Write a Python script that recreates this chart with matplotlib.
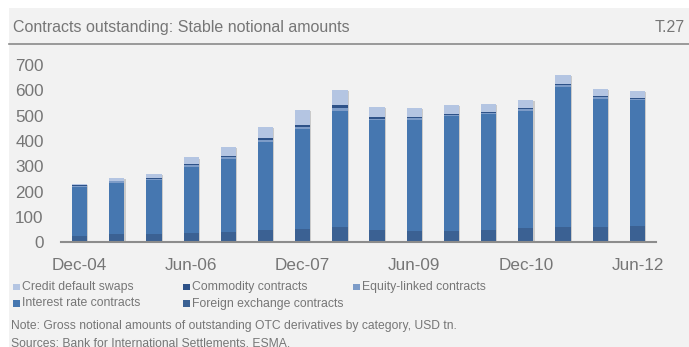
import matplotlib.pyplot as plt
import matplotlib.patheffects as pe
from matplotlib.patches import Rectangle
import numpy as np

plt.rcParams['font.family'] = ['Liberation Sans', 'DejaVu Sans']

# half-yearly periods, USD tn
periods = ["Dec-04", "Jun-05", "Dec-05", "Jun-06", "Dec-06", "Jun-07", "Dec-07", "Jun-08",
           "Dec-08", "Jun-09", "Dec-09", "Jun-10", "Dec-10", "Jun-11", "Dec-11", "Jun-12"]
fx_contracts = [26, 32, 32, 37, 40, 47, 54, 62, 49, 46, 46, 49, 57, 62, 62, 66]
ir_contracts = [194, 204, 212, 262, 289, 348, 394, 457, 432, 438, 451, 456, 463, 552, 505, 494]
equity_contracts = [4, 5, 6, 6, 7, 8, 9, 12, 7, 6, 6, 7, 6, 7, 6, 6]
commodity_contracts = [1, 2, 3, 6, 6, 7, 8, 13, 5, 4, 3, 3, 3, 3, 3, 3]
cds_contracts = [5, 11, 17, 24, 34, 45, 58, 58, 42, 38, 35, 31, 34, 37, 28, 29]

series = [
    ("Foreign exchange contracts", fx_contracts, "#3b6193"),
    ("Interest rate contracts", ir_contracts, "#4677b0"),
    ("Equity-linked contracts", equity_contracts, "#7d9cc8"),
    ("Commodity contracts", commodity_contracts, "#2e5288"),
    ("Credit default swaps", cds_contracts, "#b4c5e2"),
]

W, H = 689, 347
grey_txt = "#767676"
panel = "#f2f2f2"

fig = plt.figure(figsize=(W / 100, H / 100), dpi=100, facecolor="white")

def fx_(x):
    return x / W

def fy_(y):
    return 1 - y / H

# grey panel and header rule
fig.patches.append(Rectangle((fx_(9), 0), 1 - fx_(9), fy_(8), transform=fig.transFigure,
                             facecolor=panel, edgecolor="none", zorder=-10))
fig.add_artist(plt.Line2D([fx_(9), 1], [fy_(44), fy_(44)], transform=fig.transFigure,
                          color="#8a8a8a", lw=1.2))
fig.text(fx_(13), fy_(32), "Contracts outstanding: Stable notional amounts",
         fontsize=11.5, color=grey_txt, va="baseline", ha="left")
fig.text(fx_(685), fy_(32), "T.27", fontsize=11.5, color=grey_txt, va="baseline", ha="right")

ax = fig.add_axes([fx_(61), fy_(242.3), (656 - 61) / W, (242.3 - 65) / H])
ax.set_facecolor("none")
ax.set_zorder(2)

x = np.arange(len(periods))
width = 0.41
totals = np.sum([s[1] for s in series], axis=0)

# soft shadow under each full bar
ax.bar(x, totals, width=width, color=panel, zorder=1,
       path_effects=[pe.SimplePatchShadow(offset=(0.8, -0.8), shadow_rgbFace="#9a9a9a", alpha=0.45),
                     pe.Normal()])

bottom = np.zeros(len(periods))
for name, vals, col in series:
    ax.bar(x, vals, width=width, bottom=bottom, color=col, zorder=2, label=name)
    bottom += np.array(vals)

ax.set_xlim(-0.5, len(periods) - 0.5)
ax.set_ylim(0, 700)
ax.set_yticks(range(0, 701, 100))
ax.set_xticks(x[::3])
ax.set_xticklabels(periods[::3])
ax.tick_params(length=0, labelsize=12.3, colors=grey_txt)
ax.tick_params(axis="y", pad=12.5)
ax.tick_params(axis="x", pad=11)
for side in ["top", "right", "left"]:
    ax.spines[side].set_visible(False)
ax.spines["bottom"].set_color("#8c8c8c")
ax.spines["bottom"].set_linewidth(1.5)
ax.spines["bottom"].set_zorder(3)

# legend laid out in rows, three entries then two
legend_order = ["Credit default swaps", "Commodity contracts", "Equity-linked contracts",
                "Interest rate contracts", "Foreign exchange contracts"]
legend_slots = [(13, 287), (183, 287), (353, 287), (13, 303.5), (183, 303.5)]
colours = {name: col for name, _, col in series}
for name, (lx, ly) in zip(legend_order, legend_slots):
    fig.patches.append(Rectangle((fx_(lx), fy_(ly + 3)), 6.5 / W, 6.5 / H,
                                 transform=fig.transFigure, facecolor=colours[name],
                                 edgecolor="none"))
    fig.text(fx_(lx + 9), fy_(ly), name, fontsize=8.8, color=grey_txt, va="center", ha="left")

fig.text(fx_(11), fy_(325.5), "Note: Gross notional amounts of outstanding OTC derivatives by category, USD tn.",
         fontsize=8.7, color=grey_txt, va="center", ha="left")
fig.text(fx_(11), fy_(343.5), "Sources: Bank for International Settlements, ESMA.",
         fontsize=8.7, color=grey_txt, va="center", ha="left")

fig.savefig("out.png", dpi=100)
